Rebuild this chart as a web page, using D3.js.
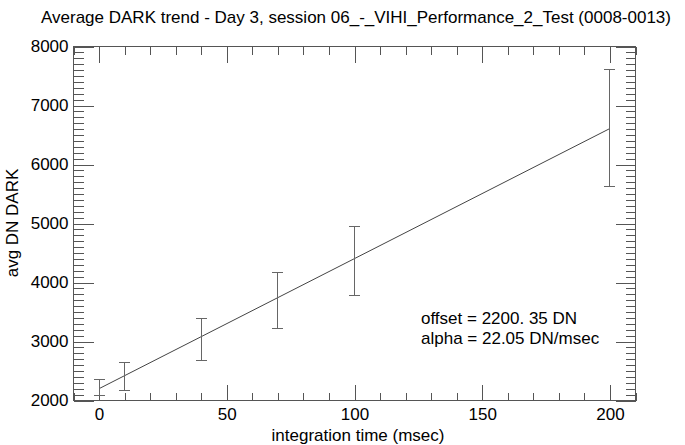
<!DOCTYPE html>
<html>
<head>
<meta charset="utf-8">
<script src="https://cdn.jsdelivr.net/npm/d3@7"></script>
<style>
  body { margin: 0; background: #fff; }
  svg text { font-family: "Liberation Sans", Arial, sans-serif; fill: #000; }
</style>
</head>
<body>
<div id="chart"></div>
<script>
// integration times (msec) and min / max of the avg dark level
const times = [0, 10, 40, 70, 100, 200];
const darkLow = [2090, 2175, 2678, 3215, 3775, 5632];
const darkHigh = [2361, 2649, 3395, 4169, 4954, 7605];

// linear fit parameters
const fitOffset = 2200.35;
const fitAlpha = 22.05;
const fitRange = [0, 200];

const xMajor = [0, 50, 100, 150, 200];
const yMajor = [2000, 3000, 4000, 5000, 6000, 7000, 8000];

const titleText = "Average DARK trend - Day 3, session 06_-_VIHI_Performance_2_Test (0008-0013)";
const notes = ["offset = 2200. 35 DN", "alpha = 22.05 DN/msec"];

const width = 685, height = 445;
const margin = { top: 46, right: 50, bottom: 45, left: 73 };
const plotW = width - margin.left - margin.right;
const plotH = height - margin.top - margin.bottom;

const svg = d3.select("#chart").append("svg")
  .attr("width", width)
  .attr("height", height);

const x = d3.scaleLinear().domain([-10, 210]).range([0, plotW]);
const y = d3.scaleLinear().domain([2000, 8000]).range([plotH, 0]);

const g = svg.append("g")
  .attr("transform", "translate(" + (margin.left + 0.5) + "," + (margin.top + 0.5) + ")");

const axisColor = "#555";
const xMinor = d3.range(-10, 211, 10).filter(v => !xMajor.includes(v));
const yMinor = d3.range(2000, 8001, 100).filter(v => !yMajor.includes(v));

function styleAxis(sel) {
  sel.select(".domain").remove();
  sel.selectAll("line").attr("stroke", axisColor).attr("shape-rendering", "crispEdges");
  sel.selectAll("text").attr("font-size", 17).attr("fill", "#000");
}

// bottom axis with labels
g.append("g")
  .attr("transform", "translate(0," + plotH + ")")
  .call(d3.axisBottom(x).tickValues(xMajor).tickSizeInner(-16).tickSizeOuter(0).tickPadding(7))
  .call(styleAxis);
g.append("g")
  .attr("transform", "translate(0," + plotH + ")")
  .call(d3.axisBottom(x).tickValues(xMinor).tickSizeInner(-8).tickSizeOuter(0).tickFormat(""))
  .call(styleAxis);
// top axis
g.append("g")
  .call(d3.axisTop(x).tickValues(xMajor).tickSizeInner(-16).tickSizeOuter(0).tickFormat(""))
  .call(styleAxis);
g.append("g")
  .call(d3.axisTop(x).tickValues(xMinor).tickSizeInner(-8).tickSizeOuter(0).tickFormat(""))
  .call(styleAxis);
// left axis with labels
g.append("g")
  .call(d3.axisLeft(y).tickValues(yMajor).tickSizeInner(-20).tickSizeOuter(0).tickPadding(5).tickFormat(d3.format("d")))
  .call(styleAxis);
g.append("g")
  .call(d3.axisLeft(y).tickValues(yMinor).tickSizeInner(-10).tickSizeOuter(0).tickFormat(""))
  .call(styleAxis);
// right axis
g.append("g")
  .attr("transform", "translate(" + plotW + ",0)")
  .call(d3.axisRight(y).tickValues(yMajor).tickSizeInner(-20).tickSizeOuter(0).tickFormat(""))
  .call(styleAxis);
g.append("g")
  .attr("transform", "translate(" + plotW + ",0)")
  .call(d3.axisRight(y).tickValues(yMinor).tickSizeInner(-10).tickSizeOuter(0).tickFormat(""))
  .call(styleAxis);

// frame
g.append("rect")
  .attr("width", plotW)
  .attr("height", plotH)
  .attr("fill", "none")
  .attr("stroke", axisColor)
  .attr("shape-rendering", "crispEdges");

// fit line
const fitLine = d3.line()
  .x(d => x(d))
  .y(d => y(fitOffset + fitAlpha * d));
g.append("path")
  .datum(fitRange)
  .attr("d", fitLine)
  .attr("fill", "none")
  .attr("stroke", "#444")
  .attr("stroke-width", 1);

// error bars
const bars = g.selectAll(".err")
  .data(times.map((t, i) => ({ t: t, lo: darkLow[i], hi: darkHigh[i] })))
  .enter().append("g")
  .attr("class", "err")
  .attr("stroke", "#666")
  .attr("shape-rendering", "crispEdges");
bars.append("line")
  .attr("x1", d => Math.round(x(d.t))).attr("x2", d => Math.round(x(d.t)))
  .attr("y1", d => y(d.lo)).attr("y2", d => y(d.hi));
bars.append("line")
  .attr("x1", d => Math.round(x(d.t)) - 5.5).attr("x2", d => Math.round(x(d.t)) + 5.5)
  .attr("y1", d => y(d.hi)).attr("y2", d => y(d.hi));
bars.append("line")
  .attr("x1", d => Math.round(x(d.t)) - 5.5).attr("x2", d => Math.round(x(d.t)) + 5.5)
  .attr("y1", d => y(d.lo)).attr("y2", d => y(d.lo));

// titles
svg.append("text")
  .attr("x", margin.left + plotW / 2 + 2)
  .attr("y", 23)
  .attr("text-anchor", "middle")
  .attr("font-size", 17)
  .text(titleText);

svg.append("text")
  .attr("x", margin.left + plotW / 2 + 4)
  .attr("y", 441)
  .attr("text-anchor", "middle")
  .attr("font-size", 17)
  .text("integration time (msec)");

svg.append("text")
  .attr("transform", "translate(18," + (margin.top + plotH / 2) + ") rotate(-90)")
  .attr("text-anchor", "middle")
  .attr("font-size", 17)
  .text("avg DN DARK");

// fit annotation
svg.selectAll(".note")
  .data(notes)
  .enter().append("text")
  .attr("class", "note")
  .attr("x", 421)
  .attr("y", (d, i) => 324 + i * 20)
  .attr("font-size", 17)
  .text(d => d);
</script>
</body>
</html>
